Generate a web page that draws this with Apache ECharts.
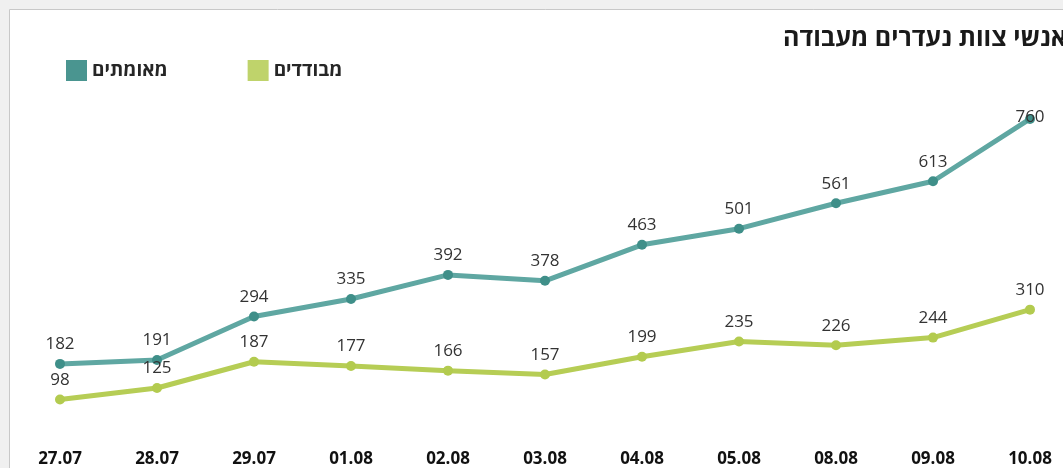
<!DOCTYPE html>
<html><head><meta charset="utf-8">
<script src="https://cdn.jsdelivr.net/npm/echarts@6/dist/echarts.min.js"></script>
<style>html,body{margin:0;padding:0;background:#f0f0f0;overflow:hidden;width:1063px;height:468px}#c{width:1080px;height:468px}</style>
</head><body><div id="c"></div>
<script>
const titleText = 'אנשי צוות נעדרים מעבודה';
const categories = ['27.07','28.07','29.07','01.08','02.08','03.08','04.08','05.08','08.08','09.08','10.08'];
const confirmedName = 'מאומתים';
const isolatedName = 'מבודדים';
const confirmed = [182,191,294,335,392,378,463,501,561,613,760];
const isolated = [98,125,187,177,166,157,199,235,226,244,310];

const FONT = '"Open Sans","DejaVu Sans","Liberation Sans",sans-serif';
const chart = echarts.init(document.getElementById('c'));
function mk(vals){
  return vals.map((v,i)=> i===vals.length-1 ? {value:v,label:{offset:[0,18]}} : v);
}
chart.setOption({
  backgroundColor:'#f0f0f0',
  animation:false,
  graphic:[{type:'rect',z:-10,silent:true,shape:{x:9.5,y:9.5,width:1100,height:500},
    style:{fill:'#ffffff',stroke:'#c8c8c8',lineWidth:1}}],
  title:{text:titleText,right:8,top:21,textStyle:{fontFamily:FONT,fontSize:25,fontWeight:'bold',color:'#1a1a1a'}},
  legend:{left:61,top:55,itemWidth:21,itemHeight:21,itemGap:80,icon:'rect',
    textStyle:{fontFamily:FONT,fontSize:19,fontWeight:'bold',color:'#262626'},
    data:[{name:confirmedName,itemStyle:{color:'#4a9590'}},{name:isolatedName,itemStyle:{color:'#bfd36b'}}]},
  grid:{left:11.5,right:1.5,top:102,bottom:25},
  xAxis:{type:'category',data:categories,boundaryGap:true,
    axisLine:{show:false},axisTick:{show:false},
    axisLabel:{margin:10,fontFamily:FONT,fontSize:17,fontWeight:'bold',color:'#111'}},
  yAxis:{type:'value',min:0,max:800,show:false,splitLine:{show:false}},
  series:[
    {name:confirmedName,type:'line',data:mk(confirmed),symbol:'circle',symbolSize:10,
      lineStyle:{width:5,color:'#5fa7a2'},itemStyle:{color:'#3f8f89'},
      label:{show:true,position:'top',distance:6,fontFamily:FONT,fontSize:17,color:'#333'}},
    {name:isolatedName,type:'line',data:isolated,symbol:'circle',symbolSize:10,
      lineStyle:{width:5,color:'#b6cd55'},itemStyle:{color:'#b3cb4f'},
      label:{show:true,position:'top',distance:6,fontFamily:FONT,fontSize:17,color:'#333'}}
  ]
});
</script></body></html>
